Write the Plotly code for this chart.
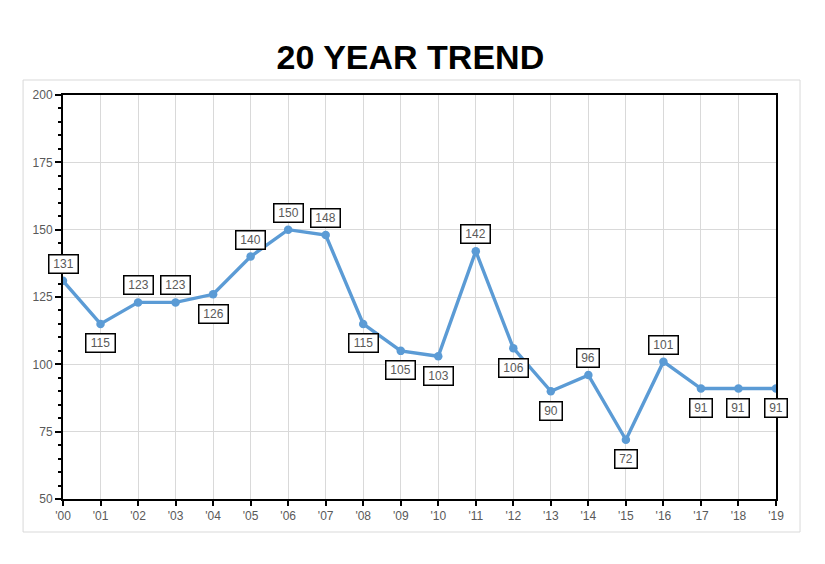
import plotly.graph_objects as go

years = ["'00", "'01", "'02", "'03", "'04", "'05", "'06", "'07", "'08", "'09",
         "'10", "'11", "'12", "'13", "'14", "'15", "'16", "'17", "'18", "'19"]
values = [131, 115, 123, 123, 126, 140, 150, 148, 115, 105,
          103, 142, 106, 90, 96, 72, 101, 91, 91, 91]
label_pos = ["above", "below", "above", "above", "below", "above", "above", "above", "below", "below",
             "below", "above", "below", "below", "above", "below", "above", "below", "below", "below"]
y_ticks = [50, 75, 100, 125, 150, 175, 200]

xs = list(range(len(years)))

fig = go.Figure()
fig.add_trace(go.Scatter(
    x=xs, y=values, mode="lines+markers",
    line=dict(color="#5B9BD5", width=3.4),
    marker=dict(color="#5B9BD5", size=8.5),
    hoverinfo="skip", showlegend=False,
))

for x, v, p in zip(xs, values, label_pos):
    txt = str(v)
    fig.add_annotation(
        x=x, y=v, xref="x", yref="y", text=txt, showarrow=False,
        yshift=17 if p == "above" else -19.5,
        width=7 * len(txt) + 4, height=14,
        font=dict(family="Liberation Sans, Arial", size=12, color="#595959"),
        bgcolor="white", bordercolor="black", borderwidth=1.5, borderpad=1.5,
    )

fig.add_shape(type="rect", xref="paper", yref="paper",
              x0=-0.056, x1=1.0337, y0=-0.0817, y1=1.0371,
              line=dict(color="#D9D9D9", width=1), layer="below")

fig.update_layout(
    width=817, height=556,
    margin=dict(l=55, r=49, t=87, b=65),
    paper_bgcolor="white", plot_bgcolor="white",
    title=dict(text="<b>20 YEAR TREND</b>", x=0.4925, xanchor="center", y=0.912, yanchor="middle",
               font=dict(family="Liberation Sans, Arial", size=34, color="black")),
    xaxis=dict(
        range=[0, 19], tickmode="array", tickvals=xs, ticktext=years,
        showgrid=True, gridcolor="#D9D9D9", gridwidth=1,
        showline=True, linecolor="black", linewidth=2, mirror=True,
        ticks="outside", ticklen=5, tickcolor="black", tickwidth=1.5,
        tickfont=dict(family="Liberation Sans, Arial", size=12, color="#595959"),
        zeroline=False,
    ),
    yaxis=dict(
        range=[50, 200], tickmode="array", tickvals=y_ticks,
        showgrid=True, gridcolor="#D9D9D9", gridwidth=1,
        showline=True, linecolor="black", linewidth=2, mirror=True,
        ticks="outside", ticklen=6, tickcolor="black", tickwidth=1.5,
        minor=dict(dtick=5, ticks="outside", ticklen=3, tickcolor="black", tickwidth=1.5, showgrid=False),
        tickfont=dict(family="Liberation Sans, Arial", size=12, color="#595959"),
        zeroline=False,
    ),
)

fig.write_html("out.html")
